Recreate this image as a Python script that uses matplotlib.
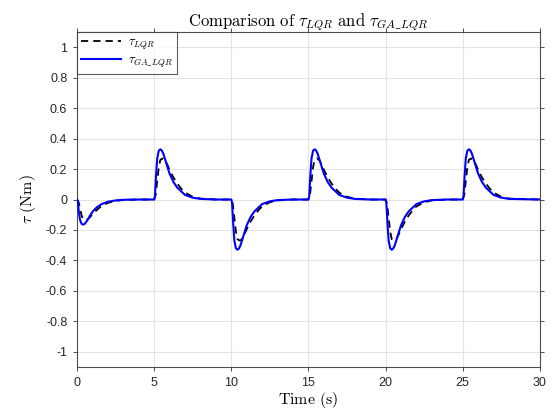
import matplotlib
matplotlib.use("Agg")
import matplotlib.pyplot as plt

# ---- data ----
t_ga = [0.00, 0.05, 0.12, 0.20, 0.30, 0.40, 0.50, 0.65, 0.85, 1.05, 1.30, 1.60, 2.00, 2.50, 3.00, 4.00,
        5.00, 5.05, 5.12, 5.20, 5.30, 5.40, 5.50, 5.60, 5.80, 6.00, 6.25, 6.50, 7.00, 7.50, 8.00, 9.00,
        10.00, 10.05, 10.12, 10.20, 10.30, 10.40, 10.50, 10.60, 10.80, 11.00, 11.25, 11.50, 12.00, 12.50, 13.00, 14.00,
        15.00, 15.05, 15.12, 15.20, 15.30, 15.40, 15.50, 15.60, 15.80, 16.00, 16.25, 16.50, 17.00, 17.50, 18.00, 19.00,
        20.00, 20.05, 20.12, 20.20, 20.30, 20.40, 20.50, 20.60, 20.80, 21.00, 21.25, 21.50, 22.00, 22.50, 23.00, 24.00,
        25.00, 25.05, 25.12, 25.20, 25.30, 25.40, 25.50, 25.60, 25.80, 26.00, 26.25, 26.50, 27.00, 27.50, 28.00, 30.00]
tau_ga = [0.000, -0.010, -0.080, -0.135, -0.160, -0.165, -0.160, -0.140, -0.105, -0.075, -0.050, -0.030, -0.015, -0.006, -0.002, 0.000,
          0.000, 0.020, 0.150, 0.270, 0.320, 0.330, 0.322, 0.300, 0.235, 0.170, 0.115, 0.078, 0.030, 0.012, 0.004, 0.000,
          0.000, -0.020, -0.150, -0.270, -0.320, -0.330, -0.322, -0.300, -0.235, -0.170, -0.115, -0.078, -0.030, -0.012, -0.004, 0.000,
          0.000, 0.020, 0.150, 0.270, 0.320, 0.330, 0.322, 0.300, 0.235, 0.170, 0.115, 0.078, 0.030, 0.012, 0.004, 0.000,
          0.000, -0.020, -0.150, -0.270, -0.320, -0.330, -0.322, -0.300, -0.235, -0.170, -0.115, -0.078, -0.030, -0.012, -0.004, 0.000,
          0.000, 0.020, 0.150, 0.270, 0.320, 0.330, 0.322, 0.300, 0.235, 0.170, 0.115, 0.078, 0.030, 0.012, 0.004, 0.000]

t_lqr = [0.00, 0.10, 0.20, 0.30, 0.40, 0.55, 0.70, 0.85, 1.00, 1.25, 1.50, 1.75, 2.00, 2.50, 3.00, 4.00,
         5.00, 5.10, 5.20, 5.30, 5.40, 5.55, 5.70, 5.85, 6.00, 6.25, 6.50, 6.75, 7.00, 7.50, 8.00, 9.00,
         10.00, 10.10, 10.20, 10.30, 10.40, 10.55, 10.70, 10.85, 11.00, 11.25, 11.50, 11.75, 12.00, 12.50, 13.00, 14.00,
         15.00, 15.10, 15.20, 15.30, 15.40, 15.55, 15.70, 15.85, 16.00, 16.25, 16.50, 16.75, 17.00, 17.50, 18.00, 19.00,
         20.00, 20.10, 20.20, 20.30, 20.40, 20.55, 20.70, 20.85, 21.00, 21.25, 21.50, 21.75, 22.00, 22.50, 23.00, 24.00,
         25.00, 25.10, 25.20, 25.30, 25.40, 25.55, 25.70, 25.85, 26.00, 26.25, 26.50, 26.75, 27.00, 27.50, 28.00, 30.00]
tau_lqr = [0.000, -0.015, -0.060, -0.105, -0.130, -0.135, -0.130, -0.115, -0.098, -0.072, -0.050, -0.035, -0.022, -0.009, -0.003, 0.000,
           0.000, 0.030, 0.120, 0.210, 0.260, 0.270, 0.260, 0.230, 0.195, 0.145, 0.105, 0.072, 0.045, 0.018, 0.006, 0.000,
           0.000, -0.030, -0.120, -0.210, -0.260, -0.270, -0.260, -0.230, -0.195, -0.145, -0.105, -0.072, -0.045, -0.018, -0.006, 0.000,
           0.000, 0.030, 0.120, 0.210, 0.260, 0.270, 0.260, 0.230, 0.195, 0.145, 0.105, 0.072, 0.045, 0.018, 0.006, 0.000,
           0.000, -0.030, -0.120, -0.210, -0.260, -0.270, -0.260, -0.230, -0.195, -0.145, -0.105, -0.072, -0.045, -0.018, -0.006, 0.000,
           0.000, 0.030, 0.120, 0.210, 0.260, 0.270, 0.260, 0.230, 0.195, 0.145, 0.105, 0.072, 0.045, 0.018, 0.006, 0.000]

xticks = [0, 5, 10, 15, 20, 25, 30]
yticks = [-1, -0.8, -0.6, -0.4, -0.2, 0, 0.2, 0.4, 0.6, 0.8, 1]
ytick_labels = ["-1", "-0.8", "-0.6", "-0.4", "-0.2", "0", "0.2", "0.4", "0.6", "0.8", "1"]

# ---- plot ----
plt.rcParams['mathtext.fontset'] = 'cm'
plt.rcParams['font.family'] = ['Liberation Sans', 'DejaVu Sans']

fig = plt.figure(figsize=(5.55, 4.18), dpi=100)
ax = fig.add_axes([0.1387, 0.122, 0.834, 0.8014])

ax.plot(t_lqr, tau_lqr, color='black', linestyle=(0, (4, 2.8)), lw=1.3, label=r'$\tau_{LQR}$', zorder=3)
ax.plot(t_ga, tau_ga, color='#0000ff', lw=1.5, label=r'$\tau_{GA\_LQR}$', zorder=4)

ax.set_xlim(0, 30)
ax.set_ylim(-1.1, 1.1)
ax.set_xticks(xticks)
ax.set_yticks(yticks)
ax.set_yticklabels(ytick_labels)
ax.grid(True, color='#e3e3e3', lw=0.8)
ax.set_axisbelow(True)

for s in ax.spines.values():
    s.set_color('#4d4d4d')
    s.set_linewidth(0.8)
ax.tick_params(direction='out', length=3, width=0.7, colors='#4d4d4d', labelcolor='#262626',
               labelsize=9, top=True, right=True, pad=4)

ax.set_title(r'$\mathrm{Comparison\ of\ }\tau_{LQR}\mathrm{\ and\ }\tau_{GA\_LQR}$', fontsize=12, pad=4)
ax.set_xlabel(r'$\mathrm{Time\ (s)}$', fontsize=11.5, labelpad=1)
ax.set_ylabel(r'$\tau\ \mathrm{(Nm)}$', fontsize=11.5, labelpad=6)

leg = ax.legend(loc='upper left', fontsize=9, frameon=True, fancybox=False,
                borderaxespad=0, handlelength=3.2, borderpad=0.35, labelspacing=0.25,
                handletextpad=0.5)
leg.get_frame().set_edgecolor('#333333')
leg.get_frame().set_linewidth(0.8)

fig.savefig('out.png', dpi=100)
